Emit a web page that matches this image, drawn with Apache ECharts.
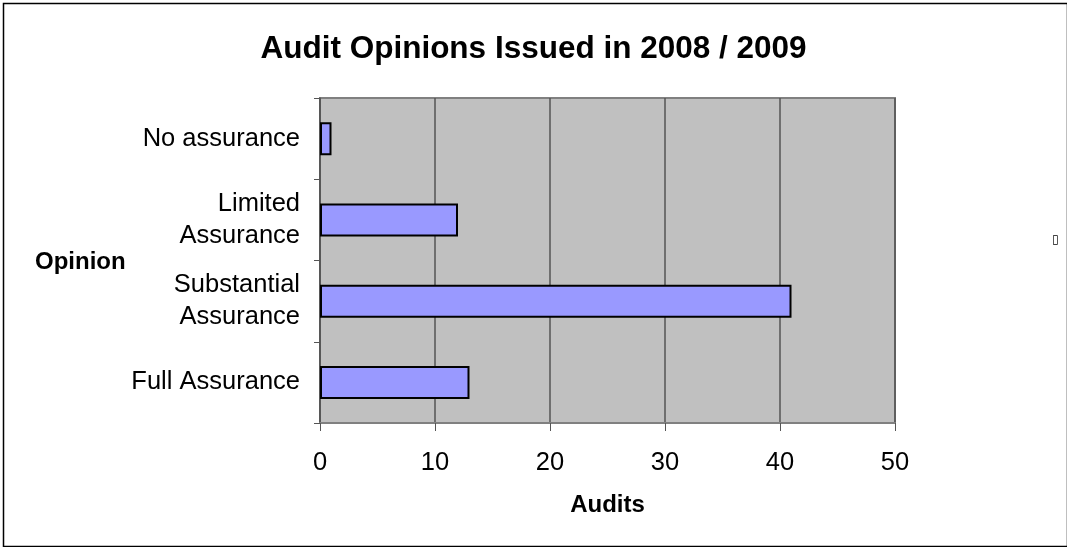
<!DOCTYPE html>
<html><head><meta charset="utf-8">
<script src="https://cdn.jsdelivr.net/npm/echarts@6/dist/echarts.min.js"></script>
<style>html,body{margin:0;padding:0;background:#fff}#c{width:1067px;height:547px}</style>
</head><body><div id="c"></div>
<script>
const categories = ['Full Assurance', 'Substantial\nAssurance', 'Limited\nAssurance', 'No assurance'];
const audits = [13, 41, 12, 1];
const xTicks = [0, 10, 20, 30, 40, 50];

const chart = echarts.init(document.getElementById('c'), null, {renderer: 'canvas'});
const F = 'Liberation Sans, Arial, sans-serif';
chart.setOption({
  animation: false,
  backgroundColor: '#fff',
  title: {
    text: 'Audit Opinions Issued in 2008 / 2009',
    left: 'center', top: 28,
    textStyle: {fontFamily: F, fontSize: 31.5, fontWeight: 'bold', color: '#000'}
  },
  grid: {left: 320, right: 172, top: 98, bottom: 124, show: true, backgroundColor: '#c0c0c0', borderColor: '#808080', borderWidth: 2},
  xAxis: {
    type: 'value', min: xTicks[0], max: xTicks[xTicks.length - 1], interval: 10,
    name: 'Audits', nameLocation: 'middle', nameGap: 70,
    nameTextStyle: {fontFamily: F, fontSize: 24, fontWeight: 'bold', color: '#000'},
    axisLine: {show: true, lineStyle: {color: '#808080', width: 2}},
    axisTick: {show: true, length: 8, lineStyle: {color: '#555'}},
    axisLabel: {fontFamily: F, fontSize: 25.5, color: '#000', margin: 27},
    splitLine: {show: true, lineStyle: {color: '#555', width: 1.5}}
  },
  yAxis: {
    type: 'category', data: categories,
    axisLine: {show: true, lineStyle: {color: '#555', width: 1.5}},
    axisTick: {show: true, length: 6, lineStyle: {color: '#555'}},
    axisLabel: {fontFamily: F, fontSize: 25.5, color: '#000', margin: 20, lineHeight: 32, align: 'right'},
    splitLine: {show: false}
  },
  series: [{
    type: 'bar', data: audits, barWidth: 33,
    itemStyle: {color: '#9999ff', borderColor: '#000', borderWidth: 2}
  }],
  graphic: [
    {type: 'rect', left: 1, top: 1, shape: {width: 1064, height: 543}, style: {fill: 'none', stroke: '#000', lineWidth: 1.5}, silent: true},
    {type: 'text', left: 35, top: 250, style: {text: 'Opinion', font: 'bold 24px ' + F, fill: '#000'}},
    {type: 'text', left: 1052, top: 234, style: {text: '▯', font: '12px DejaVu Sans', fill: '#000'}}
  ]
});
</script></body></html>
